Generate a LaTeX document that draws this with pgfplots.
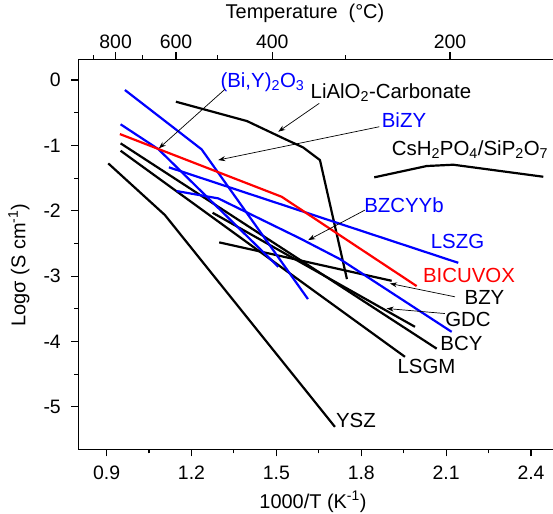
\documentclass[border=0pt]{standalone}
\usepackage{fontspec}
\setmainfont{Liberation Sans}
\usepackage{pgfplots}
\pgfplotsset{compat=1.18}
\usetikzlibrary{arrows.meta}
\definecolor{myblue}{RGB}{0,0,255}
\definecolor{myred}{RGB}{255,0,0}
\begin{document}
\begin{tikzpicture}
\begin{axis}[
  scale only axis, width=474.7bp, height=390bp,
  xmin=0.8, xmax=2.4776, ymin=-5.65, ymax=0.317,
  axis x line*=bottom, axis y line*=left,
  axis line style={line width=1.2bp},
  tick style={line width=1.1bp, black},
  tick align=outside,
  major tick length=7bp, minor tick length=4bp,
  xtick={0.9,1.2,1.5,1.8,2.1,2.4},
  xticklabels={0.9,1.2,1.5,1.8,2.1,2.4},
  ytick={-5,-4,-3,-2,-1,0},
  yticklabels={-5,-4,-3,-2,-1,0},
  minor x tick num=1, minor y tick num=1,
  ticklabel style={font=\fontsize{19.5}{22}\selectfont},
  xticklabel style={yshift=-6bp},
  yticklabel style={xshift=-7bp},
  label style={font=\fontsize{20}{24}\selectfont},
  xlabel={1000/T (K\textsuperscript{-1})},
  ylabel={Logσ (S cm\textsuperscript{-1})},
  xlabel style={at={(axis description cs:0.4944,-0.135)},anchor=center},
  ylabel style={at={(axis description cs:-0.1249,0.4726)},anchor=center},
  clip=false,
  every axis plot/.append style={line width=2.2bp, no markers, line join=round},
]
% black series
\addplot[black] coordinates {(0.9495,-0.969) (2.0665,-4.11)};
\addplot[black] coordinates {(0.9495,-1.082) (1.9544,-4.235)};
\addplot[black] coordinates {(1.2747,-2.031) (1.9898,-3.776)};
\addplot[black] coordinates {(1.298,-2.484) (1.9074,-3.072)};
\addplot[black] coordinates {(0.9057,-1.275) (1.1061,-2.066) (1.707,-5.307)};
\addplot[black] coordinates {(1.145,-0.332) (1.396,-0.628) (1.530,-0.903) (1.5939,-1.030) (1.654,-1.2245) (1.7494,-3.046)};
\addplot[black] coordinates {(1.8459,-1.489) (2.0311,-1.316) (2.1252,-1.296) (2.4433,-1.480)};
% blue series
\addplot[myblue] coordinates {(0.9647,-0.153) (1.2358,-1.061) (1.6116,-3.352)};
\addplot[myblue] coordinates {(0.9495,-0.678) (1.0824,-1.056) (1.5066,-2.858)};
\addplot[myblue] coordinates {(1.1202,-1.336) (2.1429,-2.797)};
\addplot[myblue] coordinates {(1.1474,-1.699) (1.2945,-1.811) (1.5833,-2.423) (1.7247,-2.74) (2.1195,-3.853)};
% red series
\addplot[myred] coordinates {(0.947,-0.827) (1.5186,-1.786) (1.9958,-3.153)};
% labels
\begin{scope}[every node/.style={font=\fontsize{20.5}{24}\selectfont, anchor=center, inner sep=0pt}]
\node[text=myblue] at (axis cs:1.4507,-0.031) {(Bi,Y)\textsubscript{2}O\textsubscript{3}};
\node at (axis cs:1.905,-0.199) {LiAlO\textsubscript{2}-Carbonate};
\node[text=myblue] at (axis cs:1.951,-0.612) {BiZY};
\node at (axis cs:2.1842,-1.0715) {CsH\textsubscript{2}PO\textsubscript{4}/SiP\textsubscript{2}O\textsubscript{7}};
\node[text=myblue] at (axis cs:1.951,-1.913) {BZCYYb};
\node[text=myblue] at (axis cs:2.140,-2.464) {LSZG};
\node[text=myred] at (axis cs:2.1807,-2.985) {BICUVOX};
\node at (axis cs:2.2355,-3.322) {BZY};
\node at (axis cs:2.1771,-3.666) {GDC};
\node at (axis cs:2.1541,-4.026) {BCY};
\node at (axis cs:2.0304,-4.386) {LSGM};
\node at (axis cs:1.7812,-5.204) {YSZ};
\end{scope}
% arrows
\begin{scope}[-{Stealth[length=7bp,width=5bp]}, line width=0.7bp]
\draw (axis cs:1.3182,-0.142) -- (axis cs:1.0849,-1.045);
\draw (axis cs:1.6515,-0.357) -- (axis cs:1.5066,-0.791);
\draw (axis cs:1.8636,-0.715) -- (axis cs:1.2945,-1.2245);
\draw (axis cs:1.813,-1.99) -- (axis cs:1.6126,-2.449);
\draw (axis cs:2.1312,-3.317) -- (axis cs:1.9014,-3.113);
\draw (axis cs:2.0958,-3.573) -- (axis cs:1.8897,-3.496);
\end{scope}
\end{axis}
\begin{axis}[
  scale only axis, width=474.7bp, height=390bp,
  xmin=0.8, xmax=2.4776, ymin=0, ymax=1,
  axis x line*=top, axis y line=none,
  axis line style={line width=1.2bp},
  tick style={line width=1.1bp, black},
  tick align=outside,
  major tick length=7bp, minor tick length=4bp,
  xtick={0.93184,1.14528,1.48558,2.11350},
  xticklabels={800,600,400,200},
  minor xtick={0.85241,1.02775,1.29338,1.74505},
  ticklabel style={font=\fontsize{19.5}{22}\selectfont},
  label style={font=\fontsize{20}{24}\selectfont},
  xlabel={Temperature\ \ (°C)},
  xlabel style={at={(axis description cs:0.4776,1.118)},anchor=center},
]
\addplot[draw=none] coordinates {(1,0.5)};
\end{axis}
\pgfresetboundingbox
\path (-78.3bp,-64.7bp) rectangle (474.7bp,449.3bp);
\end{tikzpicture}
\end{document}
